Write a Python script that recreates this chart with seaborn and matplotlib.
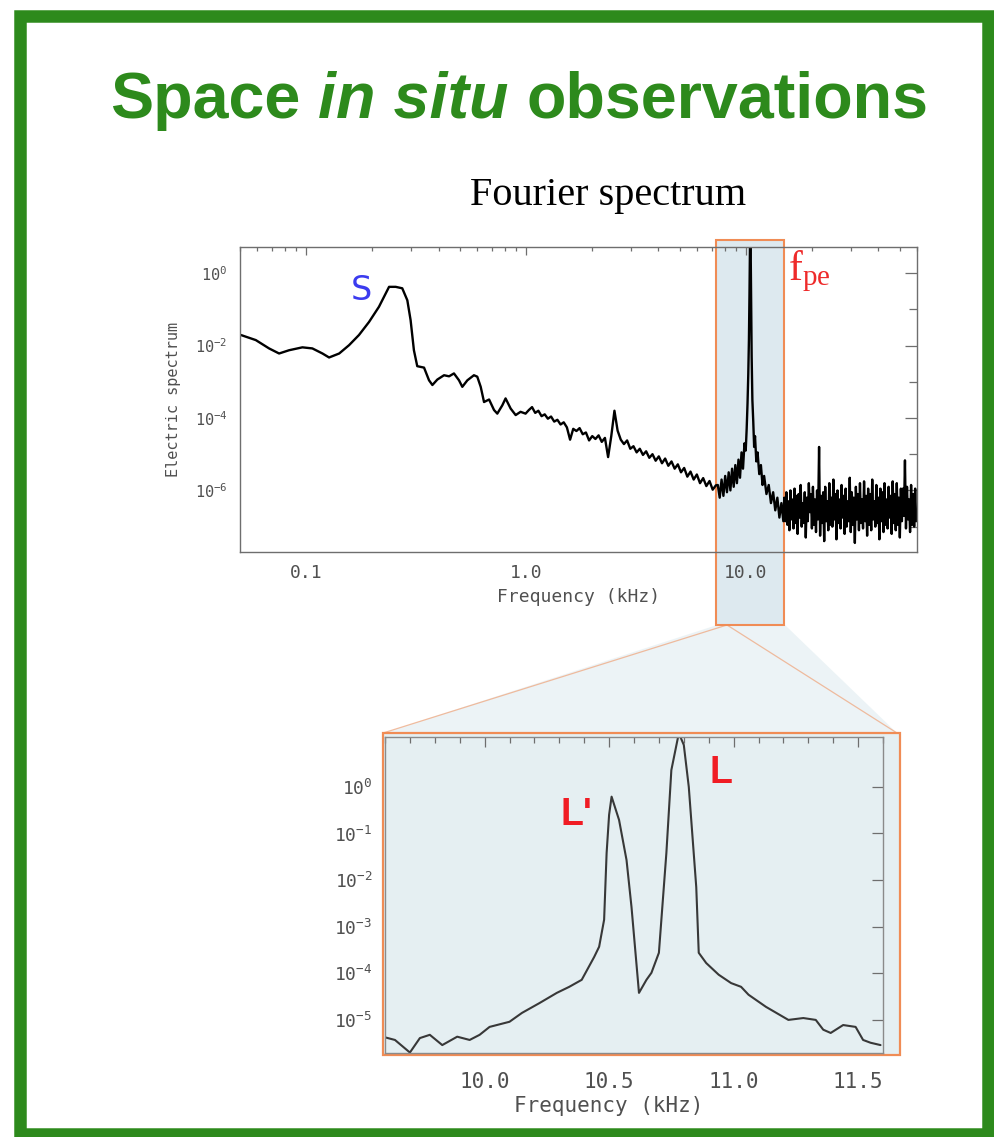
import numpy as np
import pandas as pd
import matplotlib
matplotlib.use("Agg")
import matplotlib.pyplot as plt
import seaborn as sns
from matplotlib.patches import Rectangle, Polygon
from matplotlib.lines import Line2D
from matplotlib.ticker import FixedLocator, NullFormatter, NullLocator, LogLocator, MultipleLocator

# ---------------------------------------------------------------------------
# Electric field spectrum, log10 of spectral power vs frequency (kHz)
# ---------------------------------------------------------------------------

# low-frequency part, including the ion-acoustic bump "S"
low_freq_khz = [0.0505, 0.0590, 0.0678, 0.0753, 0.0836, 0.0961, 0.1067, 0.1186,
                0.1271, 0.1413, 0.1567, 0.1738, 0.1931, 0.2143, 0.2301, 0.2382,
                0.2553, 0.2735, 0.2884, 0.2985, 0.309, 0.320, 0.3436, 0.362,
                0.375, 0.3948, 0.4236, 0.4467, 0.470, 0.4955, 0.513, 0.5408,
                0.5794, 0.600, 0.622, 0.644, 0.679, 0.715, 0.740, 0.780,
                0.807, 0.851, 0.897, 0.944, 0.995]
low_log_power = [-1.71, -1.85, -2.08, -2.22, -2.13, -2.05, -2.08, -2.22,
                 -2.33, -2.22, -1.99, -1.71, -1.35, -0.93, -0.56, -0.38,
                 -0.38, -0.42, -0.75, -1.30, -2.13, -2.57, -2.61, -2.96,
                 -3.09, -2.94, -2.82, -2.85, -2.77, -2.96, -3.14, -2.96,
                 -2.82, -2.86, -3.14, -3.56, -3.49, -3.78, -3.88, -3.65,
                 -3.46, -3.74, -3.92, -3.83, -3.88]

# 1 - 7.3 kHz, log-spaced FFT bins
mid_band_khz = (1.03, 7.30)
mid_log_power = [-3.78, -3.70, -3.86, -3.80, -3.95, -3.90, -4.02, -3.96, -4.10, -4.05,
                 -4.18, -4.12, -4.26, -4.60, -4.30, -4.36, -4.28, -4.45, -4.40, -4.62,
                 -4.50, -4.58, -4.48, -4.66, -4.55, -5.08, -4.50, -3.80, -4.35, -4.60,
                 -4.72, -4.62, -4.85, -4.78, -4.95, -4.85, -5.02, -4.92, -5.10, -5.00,
                 -5.18, -5.06, -5.25, -5.12, -5.32, -5.20, -5.40, -5.28, -5.50, -5.38,
                 -5.62, -5.48, -5.70, -5.56, -5.80, -5.66, -5.88, -5.74, -5.98, -5.86]

# Langmuir line at the electron plasma frequency f_pe
peak_freq_khz = [7.45, 7.6, 7.75, 7.9, 8.05, 8.2, 8.35, 8.5, 8.65, 8.8,
                 8.95, 9.1, 9.25, 9.4, 9.55, 9.7, 9.85, 9.98, 10.08, 10.17,
                 10.25, 10.32, 10.38, 10.44, 10.50, 10.56, 10.62, 10.70, 10.80, 10.9,
                 11.0, 11.15, 11.3, 11.5, 11.7, 11.9, 12.1, 12.4, 12.7, 13.0,
                 13.3, 13.6, 13.9, 14.2, 14.5, 14.8]
peak_log_power = [-5.85, -6.20, -5.70, -6.15, -5.60, -6.05, -5.50, -6.00, -5.40, -5.90,
                  -5.30, -5.80, -5.15, -5.65, -4.95, -5.40, -4.70, -4.90, -4.30, -3.60,
                  -2.80, -1.85, -0.60, 0.90, 0.95, -0.70, -2.30, -3.50, -4.10, -4.80,
                  -4.50, -5.20, -4.95, -5.55, -5.30, -5.85, -5.60, -6.10, -5.85, -6.35,
                  -6.05, -6.55, -6.20, -6.75, -6.35, -6.85]

# 15 - 60 kHz, noise floor, log-spaced FFT bins
high_band_khz = (14.95, 59.5)
high_log_power = [-6.20, -6.85, -6.05, -6.95, -6.30, -7.10, -6.00, -6.80, -6.25, -7.05,
                  -5.95, -6.90, -6.15, -7.20, -6.10, -6.75, -5.85, -7.00, -6.35, -6.90,
                  -6.05, -7.30, -6.20, -6.85, -5.80, -6.60, -6.10, -7.05, -5.90, -6.95,
                  -6.25, -7.15, -6.00, -6.80, -4.80, -7.25, -6.15, -6.90, -6.05, -7.40,
                  -5.90, -6.85, -6.30, -7.10, -5.80, -6.95, -6.20, -7.00, -5.70, -6.80,
                  -6.10, -7.35, -6.00, -6.90, -6.25, -7.05, -5.85, -6.75, -6.15, -7.20,
                  -5.95, -7.00, -6.30, -6.85, -5.65, -7.15, -6.05, -6.95, -6.20, -7.45,
                  -5.90, -6.80, -6.10, -7.10, -5.80, -6.90, -6.25, -7.05, -5.75, -6.85,
                  -6.15, -7.25, -5.95, -6.95, -6.10, -7.10, -5.70, -6.80, -6.30, -7.00,
                  -5.85, -6.90, -6.20, -7.35, -5.95, -6.85, -6.05, -7.15, -5.80, -6.95,
                  -6.25, -7.05, -5.90, -6.75, -6.15, -7.20, -5.75, -6.90, -6.10, -7.10,
                  -5.80, -6.95, -6.20, -7.30, -5.95, -6.85, -5.95, -6.70, -5.17, -7.05,
                  -5.90, -6.80, -6.25, -7.15, -5.85, -6.95, -6.10, -7.00, -5.95, -6.85]

# zoom on the f_pe region: backscattered L' and Langmuir L lines
zoom_freq_khz = [9.59, 9.64, 9.70, 9.74, 9.78, 9.83, 9.89, 9.94, 9.98, 10.02,
                 10.10, 10.15, 10.22, 10.29, 10.34, 10.39, 10.44, 10.46, 10.48, 10.49,
                 10.50, 10.51, 10.54, 10.57, 10.59, 10.62, 10.65, 10.67, 10.70, 10.73,
                 10.75, 10.78, 10.80, 10.82, 10.85, 10.86, 10.89, 10.94, 10.99, 11.03,
                 11.06, 11.13, 11.22, 11.28, 11.33, 11.36, 11.39, 11.44, 11.49, 11.52,
                 11.55, 11.59]
zoom_log_power = [-5.36, -5.43, -5.70, -5.39, -5.32, -5.54, -5.36, -5.43, -5.32, -5.15,
                  -5.04, -4.85, -4.64, -4.42, -4.29, -4.14, -3.65, -3.43, -2.85, -1.42,
                  -0.60, -0.21, -0.71, -1.57, -2.58, -4.42, -4.14, -3.99, -3.56, -1.42,
                  0.36, 1.15, 0.90, 0.00, -2.15, -3.56, -3.78, -4.03, -4.21, -4.29,
                  -4.46, -4.72, -5.00, -4.96, -5.00, -5.21, -5.28, -5.11, -5.15, -5.43,
                  -5.49, -5.54]

highlight_khz = (7.3, 14.9)

top_xticks = [0.1, 1.0, 10.0]
top_xticklabels = ["0.1", "1.0", "10.0"]
top_yticks = [0, -2, -4, -6]
top_yminor = [-1, -3, -5, -7]
zoom_xticks = [10.0, 10.5, 11.0, 11.5]
zoom_xticklabels = ["10.0", "10.5", "11.0", "11.5"]
zoom_yticks = [0, -1, -2, -3, -4, -5]

# ---------------------------------------------------------------------------
sns.set_style("white")
plt.rcParams["font.family"] = ["DejaVu Sans Mono", "DejaVu Sans"]
plt.rcParams["mathtext.default"] = "regular"

GREEN = "#2d8a1c"
ORANGE = "#f08c55"
BLUE_FILL = "#dde9ef"
PANEL_FILL = "#e5eff2"
TICK_GREY = "#505050"
SPINE_GREY = "#6e6e6e"

W, H = 995, 1137
fig = plt.figure(figsize=(W / 100, H / 100), dpi=100)
fig.patch.set_facecolor("white")


def fxy(px, py):
    return px / W, 1 - py / H


# full spectrum table
spec = pd.concat([
    pd.DataFrame({"freq": low_freq_khz, "logp": low_log_power}),
    pd.DataFrame({"freq": np.geomspace(*mid_band_khz, len(mid_log_power)), "logp": mid_log_power}),
    pd.DataFrame({"freq": peak_freq_khz, "logp": peak_log_power}),
    pd.DataFrame({"freq": np.geomspace(*high_band_khz, len(high_log_power)), "logp": high_log_power}),
], ignore_index=True)
spec["power"] = 10.0 ** spec["logp"]

zoom = pd.DataFrame({"freq": zoom_freq_khz, "logp": zoom_log_power})
zoom["power"] = 10.0 ** zoom["logp"]

# --- outer green frame ------------------------------------------------------
fig.patches.append(Rectangle(fxy(20, 1134), (988 - 20) / W, (1134 - 16) / H,
                             transform=fig.transFigure, fill=False,
                             edgecolor=GREEN, linewidth=9, zorder=10))

# --- connector from the highlighted band to the zoom panel ------------------
apex = fxy(727, 625)
fig.patches.append(Polygon([fxy(717, 625), fxy(785, 625), fxy(897, 733), fxy(383, 733)],
                           closed=True, transform=fig.transFigure,
                           facecolor="#e8f1f4", edgecolor="none", alpha=0.8, zorder=-3))
for end in (fxy(383, 733), fxy(897, 733)):
    fig.lines.append(Line2D([apex[0], end[0]], [apex[1], end[1]], transform=fig.transFigure,
                            color=ORANGE, lw=0.9, alpha=0.55, zorder=-2))

# frame behind the zoom panel
fig.patches.append(Rectangle(fxy(383, 1055), (900 - 383) / W, (1055 - 733) / H,
                             transform=fig.transFigure, facecolor=PANEL_FILL,
                             edgecolor=ORANGE, linewidth=1.6, zorder=-1))

# --- top panel: full spectrum -------------------------------------------------
ax1 = fig.add_axes([240 / W, 1 - 552 / H, 677 / W, 305 / H])
ax1.set_xscale("log")
ax1.set_yscale("log")
ax1.add_patch(Rectangle((highlight_khz[0], -0.239), highlight_khz[1] - highlight_khz[0], 1.262,
                        transform=ax1.get_xaxis_transform(), facecolor=BLUE_FILL,
                        edgecolor=ORANGE, linewidth=1.5, clip_on=False, zorder=0.5))
sns.lineplot(data=spec, x="freq", y="power", ax=ax1, color="black", lw=1.7,
             estimator=None, sort=False, zorder=2)
ax1.set_xlim(0.05, 60)
ax1.set_ylim(10 ** -7.7, 10 ** 0.72)

ax1.xaxis.set_major_locator(FixedLocator(top_xticks))
ax1.set_xticklabels(top_xticklabels)
ax1.xaxis.set_minor_locator(LogLocator(base=10, subs=np.arange(2, 10)))
ax1.xaxis.set_minor_formatter(NullFormatter())
ax1.yaxis.set_major_locator(FixedLocator([10.0 ** e for e in top_yticks]))
ax1.set_yticklabels([rf"$10^{{{e}}}$" for e in top_yticks])
ax1.yaxis.set_minor_locator(FixedLocator([10.0 ** e for e in top_yminor]))
ax1.yaxis.set_minor_formatter(NullFormatter())

ax1.tick_params(which="both", direction="in", top=True, right=True, colors=SPINE_GREY,
                labelcolor=TICK_GREY, width=0.9)
ax1.tick_params(axis="x", which="major", length=6, pad=9, labelsize=13)
ax1.tick_params(axis="x", which="minor", length=3)
ax1.tick_params(axis="y", which="major", length=9, pad=9, labelsize=11)
ax1.tick_params(axis="y", which="minor", length=6)
for sp in ax1.spines.values():
    sp.set_color(SPINE_GREY)
    sp.set_linewidth(1.0)
ax1.set_xlabel("Frequency (kHz)", fontsize=13, color=TICK_GREY, labelpad=4)
ax1.set_ylabel("Electric spectrum", fontsize=11, color=TICK_GREY, labelpad=10)

ax1.text(0.178, 10 ** -0.47, "S", color="#3b3bef", fontsize=24, family="DejaVu Sans",
         ha="center", va="center")
ax1.text(19.5, 10 ** 0.05, r"$\mathregular{f_{pe}}$", color="#ee2a2a", fontsize=30,
         family="Liberation Serif", ha="center", va="center")

# --- bottom panel: zoom on f_pe ----------------------------------------------
ax2 = fig.add_axes([385 / W, 1 - 1053 / H, 498 / W, 316 / H])
ax2.set_facecolor(PANEL_FILL)
ax2.set_yscale("log")
sns.lineplot(data=zoom, x="freq", y="power", ax=ax2, color="#383838", lw=1.5,
             estimator=None, sort=False)
ax2.set_xlim(9.6, 11.6)
ax2.set_ylim(10 ** -5.71, 10 ** 1.07)
ax2.xaxis.set_major_locator(FixedLocator(zoom_xticks))
ax2.set_xticklabels(zoom_xticklabels)
ax2.xaxis.set_minor_locator(MultipleLocator(0.1))
ax2.yaxis.set_major_locator(FixedLocator([10.0 ** e for e in zoom_yticks]))
ax2.set_yticklabels([rf"$10^{{{e}}}$" for e in zoom_yticks])
ax2.yaxis.set_minor_locator(NullLocator())
ax2.tick_params(which="both", direction="in", top=True, right=True, colors=SPINE_GREY,
                labelcolor=TICK_GREY, width=0.9)
ax2.tick_params(axis="x", which="major", length=7, pad=14, labelsize=15)
ax2.tick_params(axis="x", which="minor", length=4)
ax2.tick_params(axis="y", which="major", length=8, pad=9, labelsize=13)
for sp in ax2.spines.values():
    sp.set_color("#8a8a8a")
    sp.set_linewidth(1.0)
ax2.set_xlabel("Frequency (kHz)", fontsize=15, color=TICK_GREY, labelpad=4)
ax2.xaxis.set_label_coords(0.45, -0.135)
ax2.set_ylabel("")

ax2.text(10.37, 10 ** -0.6, "L'", color="#f01c24", fontsize=27, fontweight="bold",
         family="Liberation Sans", ha="center", va="center")
ax2.text(10.95, 10 ** 0.3, "L", color="#f01c24", fontsize=27, fontweight="bold",
         family="Liberation Sans", ha="center", va="center")

# --- headings ----------------------------------------------------------------
fig.text(608 / W, 1 - 205 / H, "Fourier spectrum", family="Liberation Serif",
         fontsize=29, color="black", ha="center", va="baseline")

renderer = fig.canvas.get_renderer()
title_fs = 46.5
pieces = [("Space", "normal"), ("in situ", "italic"), ("observations", "normal")]
title_texts = [fig.text(0, 1 - 118 / H, s, family="Liberation Sans", fontsize=title_fs,
                        fontweight="bold", style=st, color=GREEN, ha="left",
                        va="baseline") for s, st in pieces]
widths = [t.get_window_extent(renderer).width for t in title_texts]
gap = 0.278 * title_fs * 100 / 72
x = 519 - (sum(widths) + 2 * gap) / 2
for t, w in zip(title_texts, widths):
    t.set_x(x / W)
    x += w + gap

fig.savefig("out.png", dpi=100)
